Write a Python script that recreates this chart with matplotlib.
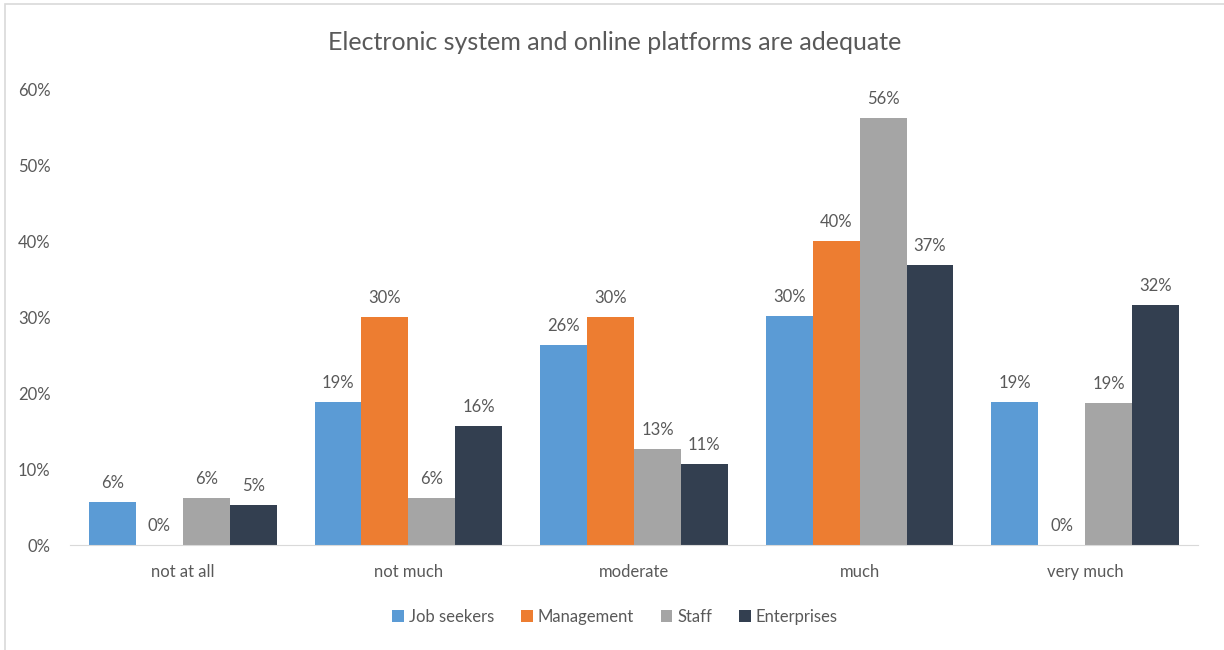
import matplotlib
matplotlib.use("Agg")
import matplotlib.pyplot as plt
from matplotlib.patches import Rectangle
import numpy as np

categories = ["not at all", "not much", "moderate", "much", "very much"]
series_names = ["Job seekers", "Management", "Staff", "Enterprises"]
job_seekers = [0.056, 0.188, 0.263, 0.301, 0.188]
management = [0.0, 0.30, 0.30, 0.40, 0.0]
staff = [0.062, 0.062, 0.126, 0.562, 0.187]
enterprises = [0.052, 0.157, 0.107, 0.368, 0.316]
colors = ["#5B9BD5", "#ED7D31", "#A5A5A5", "#333F50"]
title = "Electronic system and online platforms are adequate"

plt.rcParams['font.family'] = ['Lato', 'DejaVu Sans']
txt = "#595959"

fig = plt.figure(figsize=(12.24, 6.5), dpi=100)
fig.patches.append(Rectangle((5/1224, -0.1), 1.2, 1.1 - 4/650, transform=fig.transFigure,
                             fill=False, edgecolor="#D9D9D9", linewidth=1.2))
ax = fig.add_axes([70/1224, 105/650, 1128/1224, 456/650])

x = np.arange(len(categories))
w = 0.208
all_series = [job_seekers, management, staff, enterprises]
for i, (vals, name, c) in enumerate(zip(all_series, series_names, colors)):
    pos = x + (i - 1.5) * w
    ax.bar(pos, vals, width=w, color=c, label=name)
    for p, v in zip(pos, vals):
        ax.annotate(f"{int(v*100 + 0.5)}%", (p, v), xytext=(0, 8), textcoords="offset points",
                    ha="center", va="bottom", fontsize=12, color=txt)

ax.set_xlim(-0.5, len(categories) - 0.5)
ax.set_ylim(0, 0.6)
ticks = np.arange(0, 0.61, 0.1)
ax.set_yticks(ticks)
ax.set_yticklabels([f"{int(round(t*100))}%" for t in ticks])
ax.set_xticks(x)
ax.set_xticklabels(categories)
for s in ["top", "right", "left"]:
    ax.spines[s].set_visible(False)
ax.spines["bottom"].set_color("#D9D9D9")
ax.tick_params(axis="both", length=0, labelsize=12, colors=txt)
ax.tick_params(axis="y", pad=14)
ax.tick_params(axis="x", pad=14)

fig.text(615/1224, 1 - 42/650, title, ha="center", va="center", fontsize=18, color=txt)
fig.legend(loc="center", bbox_to_anchor=(615/1224, 1 - 617/650), ncol=4, frameon=False,
           fontsize=12, handlelength=0.7, handleheight=0.7, handletextpad=0.3, columnspacing=1.6,
           labelcolor=txt)

fig.savefig("out.png", dpi=100)
